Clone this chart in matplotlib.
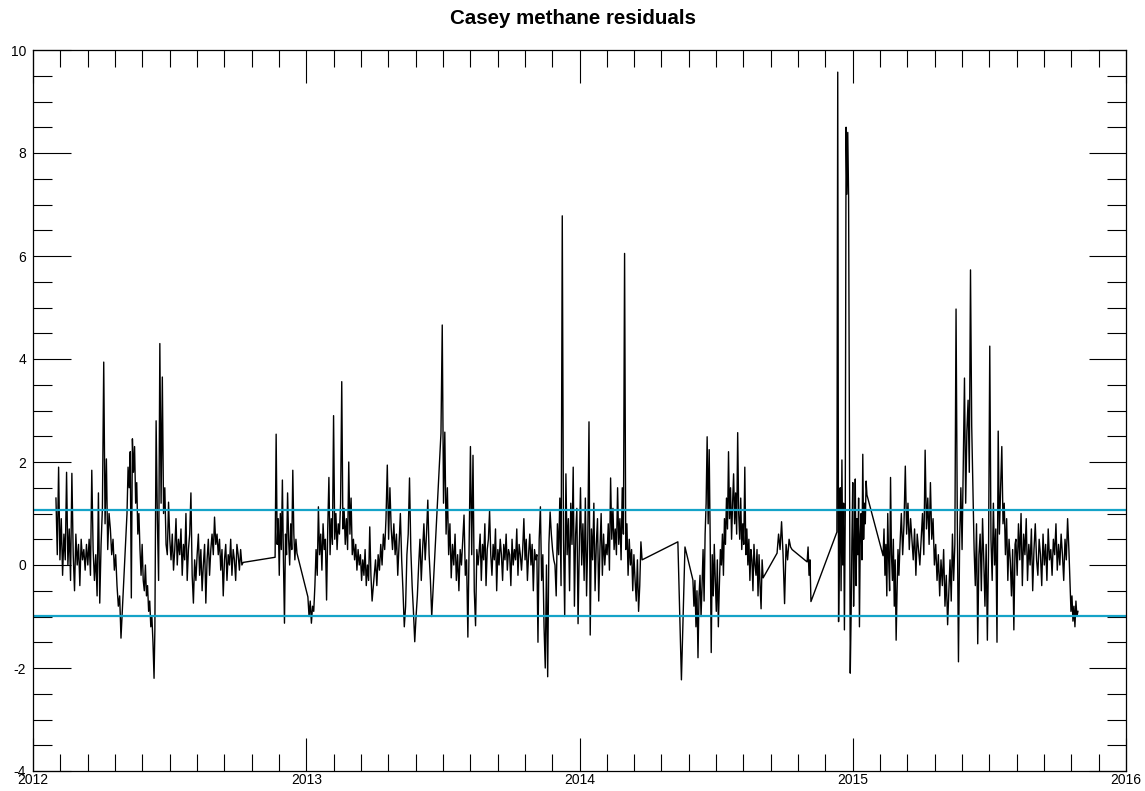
#!/usr/bin/env python3
"""Casey methane residuals, redrawn from the IDL plot."""

import matplotlib
matplotlib.use("Agg")
import matplotlib.pyplot as plt
import numpy as np
from matplotlib.ticker import MultipleLocator

plt.rcParams["font.family"] = ["Liberation Sans", "DejaVu Sans"]

# residual record, one block per stretch of data: (start year, end year), values
seg_2012a = (2012.084, 2012.322)
val_2012a = [1.3, 0.2, 1.9, 0.1, 0.9, -0.2, 0.6, 0.1, 1.8, 0.0, 0.7, -0.3, 1.78, 0.2,
             -0.5, 0.6, 0.0, 0.4, -0.4, 0.5, 0.1, 0.3, -0.1, 0.4, 0.0, 0.5, -0.2, 1.84,
             0.3, -0.3, 0.2, -0.6, 1.4, -0.74, 0.4, 1.1, 3.94, 0.8, 2.06, 0.3, 1.0,
             0.7, 0.2, 0.5, -0.1, 0.2, -0.4, -0.8, -0.6, -1.42]

seg_2012b = (2012.344, 2012.443)
val_2012b = [1.0, 1.9, 1.5, 2.2, -0.64, 2.45, 1.8, 2.3, 1.2, 1.6, 0.6, 1.0, 0.3, -0.2,
             0.4, -0.3, -0.5, 0.0, -0.6, -0.4, -0.9, -0.7, -1.2, -1.0, -1.5, -2.2]

seg_2012c = (2012.446, 2012.769)
val_2012c = [-1.26, 2.8, 0.9, -0.3, 4.3, 1.2, 3.65, 1.0, 1.5, 0.4,
             0.2, 1.22, 0.5, 0.1, 0.6, -0.1, 0.3, 0.9, 0.0, 0.5, 0.2, 0.7, -0.2, 0.4,
             0.1, 1.0, -0.3, 0.3, 0.6, 1.4, -0.2, -0.74, 0.1,
             -0.3, 0.2, 0.6, -0.2, 0.3, -0.5, 0.0, 0.4, -0.74, 0.1, 0.5, -0.2, 0.3, 0.6,
             0.2, 0.93, 0.4, 0.6, 0.2, 0.5, -0.1, 0.3, -0.6, 0.1, 0.4, -0.3, 0.2, 0.0,
             0.5, -0.2, 0.3, 0.1, -0.3, 0.4, 0.2, -0.1, 0.3, 0.0, 0.05]

seg_2012d = (2012.886, 2012.966)
val_2012d = [0.15, 2.54, 0.4, 0.9, -0.2, 1.0, 0.3, 1.65, 0.1, -1.13, 0.6, 0.2, 1.4,
             0.5, 0.0, 0.8, 0.3, 1.84, 0.6, 0.1, 0.5, 0.23]

seg_2013a = (2013.006, 2013.241)
val_2013a = [-0.62, -1.0, -0.7, -1.13, -0.8, -0.9, -0.4, 0.3, -0.2, 1.13, 0.2, 0.6,
             -0.1, 0.8, 0.3, 0.5, -0.68, 0.7, 1.7, 0.2, 0.9, 0.4, 2.9, 0.5, 1.0, 0.3,
             0.8, 0.6, 1.2, 3.56, 0.7, 1.1, 0.4, 0.9, 0.3, 2.0, 0.6, 1.3, 0.2, 0.5,
             0.1, 0.4, -0.1, 0.3, 0.0, 0.2, -0.3, 0.1, -0.2, 0.3, -0.4, 0.0, -0.3,
             0.74, -0.2, -0.7]

seg_2013b = (2013.244, 2013.464)
val_2013b = [-0.5, -0.2, 0.1, -0.4, 0.2, -0.1, 0.4, 0.0, 0.6, 0.3, 0.9, 1.94, 0.5,
             1.5, 0.7, 0.3, 0.8, 0.2, 0.6, -0.2, 0.4, 1.0, 0.1, -0.5, -1.2, -0.8, 0.2,
             0.6, 1.69, 0.3, -0.4, -0.9, -1.49, -1.0, -0.6, 0.0, 0.5, -0.3, 0.3, 0.8,
             0.1, 0.6, 1.26, 0.2, -0.3, -1.0, -0.5]

seg_2013c = (2013.493, 2013.629)
val_2013c = [2.56, 4.66, 1.2, 2.58, 0.6, 1.5, 0.2, 0.8, -0.25, 0.4, 0.0, 0.6, -0.3,
             0.2, -0.5, 0.3, 0.0, 0.5, 0.97, -0.2, 0.1, -1.4, 0.4, 2.3, 0.2, 2.13,
             -0.5, -1.18, 0.3, 0.0]

seg_2013d = (2013.632, 2013.844)
val_2013d = [0.2, 0.6, -0.3, 0.4, 0.1, 0.8, -0.4, 0.3, 0.5, 1.05, 0.2, -0.2, 0.4,
             0.1, 0.7, -0.5, 0.3, 0.0, 0.5, 0.2, -0.3, 0.4, 0.1, 0.6, -0.1, 0.3, 0.2,
             -0.4, 0.5, 0.0, 0.3, 0.1, 0.7, -0.2, 0.4, 0.2, -0.1, 0.3, 0.9, 0.1, 0.5,
             -0.3, 0.2, 0.6, 0.0, 0.4, -0.5, 0.3, 0.1, 0.2]

seg_2013e = (2013.848, 2014.097)
val_2013e = [-1.5, 0.5, 1.13, -0.3, 0.2, -1.2, -2.0, 0.0, -2.17, 0.4, 1.03, 0.6, 0.3,
             0.1, 0.0, -0.6, 0.8, 0.2, 1.3, -0.4, 6.78, 0.5, -1.0, 1.77, 0.2, 0.9,
             -0.5, 1.2, 0.4, 1.9, -0.8, 0.6, 1.1, -1.14, 0.3, 1.5, 0.0, 0.8, -0.3, 1.3,
             -0.6, 0.5, 2.78, -1.36, 0.7, 0.1, 1.2, -0.5, 0.4, 0.9, -0.7, 0.3, 1.0,
             -0.2, 0.6, 0.0, 0.4]

seg_2014a = (2014.101, 2014.229)
val_2014a = [0.2, 0.8, -0.1, 1.69, 0.5, 1.1, 0.3, 0.7, 0.2, 1.5, 0.4, 0.9, 0.1, 1.5,
             0.6, 6.05, 0.3, 0.8, -0.2, 0.5, 0.0, 0.3, -0.5, 0.2, -0.3, -0.7, 0.1,
             -0.9, -0.4, 0.45, 0.1]

seg_2014b = (2014.360, 2014.386)
val_2014b = [0.45, -2.23, 0.35]

seg_2014c = (2014.415, 2014.672)
val_2014c = [-0.29, -0.8, -0.3, -1.2, -0.5, -1.8, -0.6, -0.2, -1.0, -0.4, 0.3, -0.7,
             0.6, 1.2, 2.49, 0.8, 2.24, 0.5, -1.7, 0.2, -0.6, 0.4, -0.3, -0.9, 0.1,
             -1.2, -0.4, 0.3, 0.0, 0.6, -0.2, 0.9, 0.4, 1.3, 0.7, 2.2, 0.9, 1.5, 0.5,
             1.2, 1.77, 0.8, 1.4, 0.6, 2.57, 1.0, 0.5, 1.3, 0.3, 0.8, 0.4, 1.9, 0.2,
             0.7, 0.0, 0.5, -0.3, 0.3, 0.1, -0.5, 0.4, 0.0, -0.2, 0.3, -0.6, 0.2, -0.4,
             -0.85, 0.1, -0.25]

seg_2014d = (2014.723, 2014.778)
val_2014d = [0.23, 0.6, 0.3, 0.84, 0.2, -0.75, 0.4, 0.1, 0.5, 0.35, 0.3]

seg_2014e = (2014.833, 2014.847)
val_2014e = [0.06, 0.35, -0.2, 0.1, -0.71]

seg_2014f = (2014.942, 2015.052)
val_2014f = [0.64, 9.57, -1.1, 0.3, 1.5, -0.5, 2.04, 0.0, 1.2, -1.26, 1.0, 8.5, 7.2,
             8.4, 7.15, 2.4, -2.1, -1.0, 0.5, 1.6, -0.8, 0.3, 1.67, -0.4, 0.9, 0.2,
             1.3, -1.2, 0.6, 1.0, 0.1, 2.15, 0.5, 1.2, 0.8, 1.63, 1.36]

seg_2015a = (2015.111, 2015.169)
val_2015a = [0.18, 0.7, -0.2, 0.4, -0.6, 1.0, 0.1, -0.5, 1.7, 0.2, -0.3, 0.5, -0.8,
             0.1, -1.46, -0.5, 0.3, -0.2]

seg_2015b = (2015.173, 2015.352)
val_2015b = [0.4, 1.0, 0.2, 0.8, 1.92, 0.6, 1.2, 0.3, 0.9, 0.5, 0.1, 0.7, -0.2, 0.6,
             0.3, 0.0, 0.5, 1.0, 0.2, 2.23, 0.7, 1.3, 0.4, 1.6, 0.5, 0.9, 0.0, 0.4,
             -0.3, 0.2, -0.6, 0.1, -0.4, 0.3, -0.8, -0.2, -1.16, -0.5]

seg_2015c = (2015.356, 2015.594)
val_2015c = [0.1, -0.7, 0.6, -0.3, 0.4, 4.97, 1.0, -1.88, 0.5, 1.5, 0.3, 2.0, 3.63,
             1.2, 2.6, 3.2, 1.8, 5.73, 2.7, 1.5, 0.3, -0.4, 0.8, -1.53, 0.2, 0.6, -0.5,
             0.9, 0.1, -0.8, 0.4, -1.46, 0.3, 4.25, 0.5, -0.3, 1.2, 0.0, 0.7, -1.5,
             2.6, 0.6, 1.5, 2.3, 0.8, 1.2, 0.2, 0.9, -0.3, 0.5, 0.1, -0.6, 0.3, -1.26,
             0.4]

seg_2015d = (2015.597, 2015.791)
val_2015d = [0.5, -0.2, 0.8, 0.1, 1.0, -0.4, 0.6, 0.2, 0.9, -0.3, 0.4, 0.0, 0.7, -0.5,
             0.3, 0.8, 0.1, -0.2, 0.5, 0.2, -0.4, 0.6, 0.0, 0.4, -0.3, 0.7, 0.1, 0.3,
             -0.2, 0.5, 0.2, 0.8, -0.1, 0.4, 0.0, 0.6, 0.2, -0.3, 0.5, 0.1, 0.9, 0.3]

seg_2015e = (2015.795, 2015.824)
val_2015e = [-0.3, -0.9, -0.6, -1.09, -0.8, -1.2, -0.7, -1.0, -0.9]

segments = [
    (seg_2012a, val_2012a), (seg_2012b, val_2012b), (seg_2012c, val_2012c),
    (seg_2012d, val_2012d), (seg_2013a, val_2013a), (seg_2013b, val_2013b),
    (seg_2013c, val_2013c), (seg_2013d, val_2013d), (seg_2013e, val_2013e),
    (seg_2014a, val_2014a), (seg_2014b, val_2014b), (seg_2014c, val_2014c),
    (seg_2014d, val_2014d), (seg_2014e, val_2014e), (seg_2014f, val_2014f),
    (seg_2015a, val_2015a), (seg_2015b, val_2015b), (seg_2015c, val_2015c),
    (seg_2015d, val_2015d), (seg_2015e, val_2015e),
]

# +/- 1 sigma limits
upper_limit = 1.07
lower_limit = -0.99

t = np.concatenate([np.linspace(a, b, len(v)) for (a, b), v in segments])
y = np.concatenate([np.asarray(v, dtype=float) for _, v in segments])

fig = plt.figure(figsize=(11.45, 7.91), dpi=100)
ax = fig.add_axes([33 / 1145, 20 / 791, 1093 / 1145, 721 / 791])

ax.plot(t, y, color="black", linewidth=1.0)
ax.axhline(upper_limit, color="#14a3c8", linewidth=1.6)
ax.axhline(lower_limit, color="#14a3c8", linewidth=1.6)

ax.set_xlim(2012, 2016)
ax.set_ylim(-4, 10)
ax.xaxis.set_major_locator(MultipleLocator(1))
ax.xaxis.set_minor_locator(MultipleLocator(0.1))
ax.yaxis.set_major_locator(MultipleLocator(2))
ax.yaxis.set_minor_locator(MultipleLocator(0.5))
ax.xaxis.set_major_formatter(plt.FormatStrFormatter("%d"))
ax.yaxis.set_major_formatter(plt.FormatStrFormatter("%d"))

ax.tick_params(axis="both", which="both", direction="in", top=True, right=True,
               width=0.8, labelsize=10)
ax.tick_params(axis="x", which="major", length=24, pad=1.5)
ax.tick_params(axis="x", which="minor", length=12)
ax.tick_params(axis="y", which="major", length=27, pad=5)
ax.tick_params(axis="y", which="minor", length=13.5)
for sp in ax.spines.values():
    sp.set_linewidth(0.9)

fig.text(0.5, 1 - 18 / 791, "Casey methane residuals", ha="center", va="center",
         fontsize=14.8, fontweight="bold")

fig.savefig("out.png", dpi=100)
